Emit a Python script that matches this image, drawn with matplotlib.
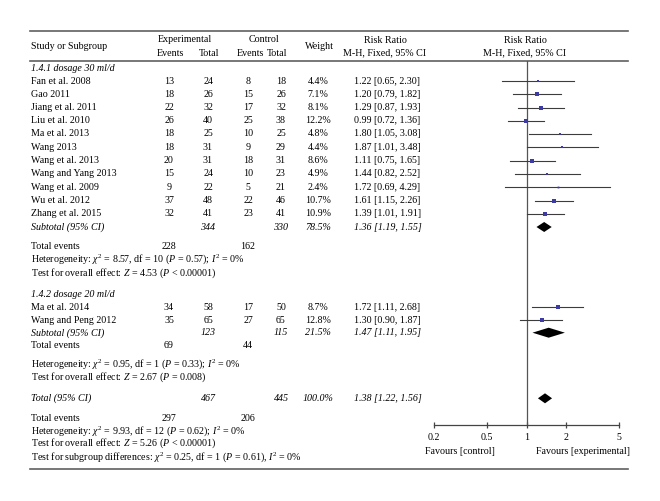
import numpy as np
import matplotlib.pyplot as plt

plt.rcParams['font.family'] = ['Liberation Serif', 'DejaVu Serif']
plt.rcParams['mathtext.fontset'] = 'custom'
plt.rcParams['mathtext.rm'] = 'Liberation Serif'
plt.rcParams['mathtext.it'] = 'Liberation Serif:italic'

# subgroup 1.4.1 dosage 30 ml/d
studies1 = ["Fan et al. 2008", "Gao 2011", "Jiang et al. 2011", "Liu et al. 2010",
            "Ma et al. 2013", "Wang 2013", "Wang et al. 2013", "Wang and Yang 2013",
            "Wang et al. 2009", "Wu et al. 2012", "Zhang et al. 2015"]
exp_events1 = [13, 18, 22, 26, 18, 18, 20, 15, 9, 37, 32]
exp_total1 = [24, 26, 32, 40, 25, 31, 31, 24, 22, 48, 41]
ctl_events1 = [8, 15, 17, 25, 10, 9, 18, 10, 5, 22, 23]
ctl_total1 = [18, 26, 32, 38, 25, 29, 31, 23, 21, 46, 41]
weight1 = [4.4, 7.1, 8.1, 12.2, 4.8, 4.4, 8.6, 4.9, 2.4, 10.7, 10.9]
rr1 = [1.22, 1.20, 1.29, 0.99, 1.80, 1.87, 1.11, 1.44, 1.72, 1.61, 1.39]
lo1 = [0.65, 0.79, 0.87, 0.72, 1.05, 1.01, 0.75, 0.82, 0.69, 1.15, 1.01]
hi1 = [2.30, 1.82, 1.93, 1.36, 3.08, 3.48, 1.65, 2.52, 4.29, 2.26, 1.91]
sub1 = (1.36, 1.19, 1.55)

# subgroup 1.4.2 dosage 20 ml/d
studies2 = ["Ma et al. 2014", "Wang and Peng 2012"]
exp_events2 = [34, 35]
exp_total2 = [58, 65]
ctl_events2 = [17, 27]
ctl_total2 = [50, 65]
weight2 = [8.7, 12.8]
rr2 = [1.72, 1.30]
lo2 = [1.11, 0.90]
hi2 = [2.68, 1.87]
sub2 = (1.47, 1.11, 1.95)

overall = (1.38, 1.22, 1.56)
xticks = [0.2, 0.5, 1, 2, 5]

W, H = 660, 501
fig = plt.figure(figsize=(6.6, 5.01), dpi=100)
ax = fig.add_axes([0, 0, 1, 1])
ax.set_xlim(0, W)
ax.set_ylim(H, 0)
ax.axis('off')

fs = 7.2
# column x positions (pixels)
x_name, x_ee, x_et, x_ce, x_ct, x_w, x_rr = 31, 169, 208, 248, 281, 318, 354

# rules
for yy in (31, 61, 469):
    ax.plot([30, 628], [yy, yy], color='#606060', lw=1.2)

# header
ax.text(x_name, 46, "Study or Subgroup", fontsize=fs, va='center')
ax.text(185, 39, "Experimental", fontsize=fs, va='center', ha='center')
ax.text(264, 39, "Control", fontsize=fs, va='center', ha='center')
for xx, lab in [(170, "Events"), (209, "Total"), (250, "Events"), (277, "Total")]:
    ax.text(xx, 53, lab, fontsize=fs, va='center', ha='center')
ax.text(319, 46, "Weight", fontsize=fs, va='center', ha='center')
for xx in (385, 525):
    ax.text(xx, 40, "Risk Ratio", fontsize=fs, va='center', ha='center')
    ax.text(xx, 53, "M-H, Fixed, 95% CI", fontsize=fs, va='center', ha='center')

# row positions
ys1 = [81, 94.3, 107.5, 120.8, 134, 147.3, 160.7, 174, 187.2, 200.5, 213.7]
ys2 = [307.3, 320.3]


def rows(names, ee, et, ce, ct, w, rr, lo, hi, ys):
    for i in range(len(names)):
        y = ys[i]
        ax.text(x_name, y, names[i], fontsize=fs, va='center')
        ax.text(x_ee, y, str(ee[i]), fontsize=fs, va='center', ha='center')
        ax.text(x_et, y, str(et[i]), fontsize=fs, va='center', ha='center')
        ax.text(x_ce, y, str(ce[i]), fontsize=fs, va='center', ha='center')
        ax.text(x_ct, y, str(ct[i]), fontsize=fs, va='center', ha='center')
        ax.text(x_w, y, "%.1f%%" % w[i], fontsize=fs, va='center', ha='center')
        ax.text(x_rr, y, "%.2f [%.2f, %.2f]" % (rr[i], lo[i], hi[i]), fontsize=fs, va='center')


def subtotal(label, et, ct, w, s, y):
    ax.text(x_name, y, label, fontsize=fs, va='center', style='italic')
    ax.text(x_et, y, str(et), fontsize=fs, va='center', ha='center', style='italic')
    ax.text(x_ct, y, str(ct), fontsize=fs, va='center', ha='center', style='italic')
    ax.text(x_w, y, w, fontsize=fs, va='center', ha='center', style='italic')
    ax.text(x_rr, y, "%.2f [%.2f, %.2f]" % s, fontsize=fs, va='center', style='italic')


# group 1
ax.text(x_name, 68.3, "1.4.1 dosage 30 ml/d", fontsize=fs, va='center', style='italic')
rows(studies1, exp_events1, exp_total1, ctl_events1, ctl_total1, weight1, rr1, lo1, hi1, ys1)
subtotal("Subtotal (95% CI)", sum(exp_total1), sum(ctl_total1), "78.5%", sub1, 227)
ax.text(x_name, 246, "Total events", fontsize=fs, va='center')
ax.text(x_ee, 246, str(sum(exp_events1)), fontsize=fs, va='center', ha='center')
ax.text(x_ce, 246, str(sum(ctl_events1)), fontsize=fs, va='center', ha='center')
ax.text(x_name, 259.3, r"Heterogeneity: $\chi^2$ = 8.57, df = 10 ($P$ = 0.57); $I^2$ = 0%",
        fontsize=fs, va='center')
ax.text(x_name, 273, r"Test for overall effect: $Z$ = 4.53 ($P$ < 0.00001)", fontsize=fs, va='center')

# group 2
ax.text(x_name, 294.3, "1.4.2 dosage 20 ml/d", fontsize=fs, va='center', style='italic')
rows(studies2, exp_events2, exp_total2, ctl_events2, ctl_total2, weight2, rr2, lo2, hi2, ys2)
subtotal("Subtotal (95% CI)", sum(exp_total2), sum(ctl_total2), "21.5%", sub2, 332.7)
ax.text(x_name, 346, "Total events", fontsize=fs, va='center')
ax.text(x_ee, 346, str(sum(exp_events2)), fontsize=fs, va='center', ha='center')
ax.text(x_ce, 346, str(sum(ctl_events2)), fontsize=fs, va='center', ha='center')
ax.text(x_name, 364.5, r"Heterogeneity: $\chi^2$ = 0.95, df = 1 ($P$ = 0.33); $I^2$ = 0%",
        fontsize=fs, va='center')
ax.text(x_name, 377.3, r"Test for overall effect: $Z$ = 2.67 ($P$ = 0.008)", fontsize=fs, va='center')

# overall
subtotal("Total (95% CI)", sum(exp_total1) + sum(exp_total2), sum(ctl_total1) + sum(ctl_total2),
         "100.0%", overall, 398.3)
ax.text(x_name, 418.3, "Total events", fontsize=fs, va='center')
ax.text(x_ee, 418.3, str(sum(exp_events1) + sum(exp_events2)), fontsize=fs, va='center', ha='center')
ax.text(x_ce, 418.3, str(sum(ctl_events1) + sum(ctl_events2)), fontsize=fs, va='center', ha='center')
ax.text(x_name, 431, r"Heterogeneity: $\chi^2$ = 9.93, df = 12 ($P$ = 0.62); $I^2$ = 0%",
        fontsize=fs, va='center')
ax.text(x_name, 443.5, r"Test for overall effect: $Z$ = 5.26 ($P$ < 0.00001)", fontsize=fs, va='center')
ax.text(x_name, 457, r"Test for subgroup differences: $\chi^2$ = 0.25, df = 1 ($P$ = 0.61), $I^2$ = 0%",
        fontsize=fs, va='center')

ax.text(460, 451, "Favours [control]", fontsize=fs, va='center', ha='center')
ax.text(583, 451, "Favours [experimental]", fontsize=fs, va='center', ha='center')

# forest panel
fx0, fx1, fy0, fy1 = 434, 619, 61, 425
fa = fig.add_axes([fx0 / W, (H - fy1) / H, (fx1 - fx0) / W, (fy1 - fy0) / H])
fa.patch.set_alpha(0)
fa.set_xscale('log')
fa.set_xlim(0.2, 5)
fa.set_ylim(fy1, fy0)
for s in ('top', 'left', 'right'):
    fa.spines[s].set_visible(False)
fa.spines['bottom'].set_color('#444444')
fa.spines['bottom'].set_linewidth(0.9)
fa.set_xticks(xticks)
fa.set_xticklabels([str(t) for t in xticks])
fa.minorticks_off()
fa.tick_params(axis='x', direction='inout', length=5, width=0.9, color='#444444',
               labelsize=fs, pad=3.5)
fa.set_yticks([])
fa.axvline(1, color='#5a5252', lw=0.9)

line_c = '#3c3c3c'
sq_c = '#3b3ba3'
for rr, lo, hi, w, ys in [(rr1, lo1, hi1, weight1, ys1), (rr2, lo2, hi2, weight2, ys2)]:
    for i in range(len(rr)):
        fa.plot([lo[i], hi[i]], [ys[i], ys[i]], color=line_c, lw=0.8)
        fa.plot(rr[i], ys[i], 's', color=sq_c, ms=0.85 * np.sqrt(w[i]), mew=0)

for (est, lo, hi), y in [(sub1, 227), (sub2, 332.7), (overall, 398.3)]:
    fa.fill([lo, est, hi, est], [y, y - 5, y, y + 5], color='black', lw=0)

fig.savefig('out.png', dpi=100)
